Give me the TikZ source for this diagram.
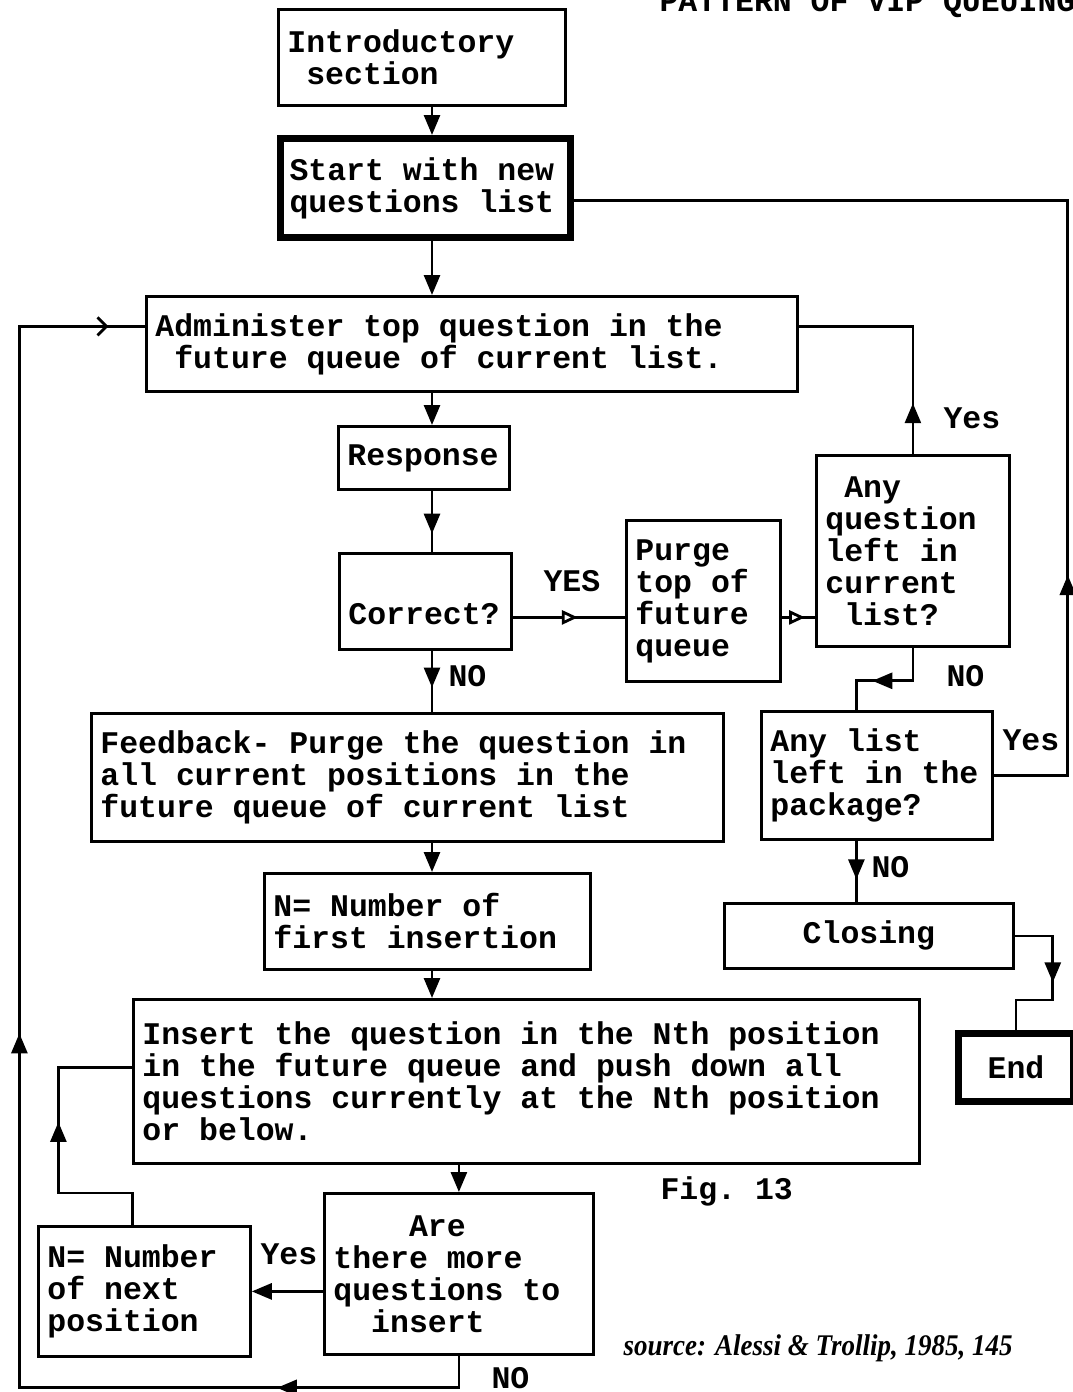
\documentclass[tikz,border=0pt]{standalone}
\usepackage{fontspec}
\setmonofont{Liberation Mono}
\newfontfamily\srcfont{Liberation Serif}
\usetikzlibrary{arrows.meta,decorations.markings}

\begin{document}
\begin{tikzpicture}[x=1pt,y=-1pt,
    font=\ttfamily\bfseries\fontsize{31.5}{32}\selectfont,
    box/.style={draw, line width=2.8pt, anchor=north west, align=flush left,
      inner xsep=9pt, inner ysep=0pt},
    heavybox/.style={box, line width=7pt},
    link/.style={line width=2.8pt},
    tip/.style={-{Triangle[length=20pt,width=16pt]}},
    midtip/.style={postaction={decorate}, decoration={markings,
      mark=at position #1 with {\arrow{Triangle[length=20pt,width=16pt]}}}},
    opentip/.style={postaction={decorate}, decoration={markings,
      mark=at position #1 with {\arrow{Triangle[length=16pt,width=14pt,fill=white]}}}},
    label/.style={anchor=base west}]
  \useasboundingbox (0,0) rectangle (1073,1392);
  \coordinate (spine) at (432,0);

  % Title and captions
  \node[label] (title) at (656,12) {PATTERN OF VIP QUEUING};
  \node[label] (fig) at (657,1199) {Fig. 13};
  \node[label, font=\srcfont\bfseries\itshape\fontsize{30}{32}\selectfont] (source) at (620,1355)
    {\scalebox{0.9}[1]{source: Alessi \& Trollip, 1985, 145}};

  % Boxes
  \node[box, text width=269pt, minimum height=96pt] (intro) at (277,8) {Introductory\\\phantom{x}section};
  \node[heavybox, text width=272pt, minimum height=99pt] (start) at (277,135) {Start with new\\questions list};
  \node[box, text width=633pt, minimum height=95pt] (admin) at (145,295)
    {Administer top question in the\\\phantom{x}future queue of current list.};
  \node[box, text width=153pt, minimum height=63pt] (response) at (337,425) {Response};
  \node[box, text width=154pt, minimum height=96pt] (correct) at (338,552)
    {\raisebox{-13pt}[\height][\depth]{Correct?}};
  \node[box, text width=136pt, minimum height=161pt] (purge) at (625,519) {Purge\\top of\\future\\queue};
  \node[box, text width=175pt, minimum height=191pt] (anyq) at (815,454)
    {\phantom{x}Any\\question\\left in\\current\\\phantom{x}list?};
  \node[box, text width=614pt, minimum height=128pt] (feedback) at (90,712)
    {Feedback- Purge the question in\\all current positions in the\\future queue of current list};
  \node[box, text width=213pt, minimum height=128pt] (anylist) at (760,710) {Any list\\left in the\\package?};
  \node[box, text width=308pt, minimum height=96pt] (nfirst) at (263,872) {N= Number of\\first insertion};
  \node[box, text width=271pt, minimum height=65pt, align=flush center] (closing) at (723,902) {Closing};
  \node[box, text width=768pt, minimum height=164pt] (insert) at (132,998)
    {Insert the question in the Nth position\\in the future queue and push down all\\questions currently at the Nth position\\or below.};
  \node[heavybox, text width=97pt, minimum height=68pt, align=flush center] (end) at (955,1030) {End};
  \node[box, text width=251pt, minimum height=161pt] (more) at (323,1192)
    {\phantom{xxxx}Are\\there more\\questions to\\\phantom{xx}insert};
  \node[box, text width=194pt, minimum height=130pt] (nnext) at (37,1225) {N= Number\\of next\\position};
  \coordinate (yesline) at ([yshift=-16pt]correct.east);

  % Main column
  \draw[link, tip] (intro.south -| spine) -- (start.north -| spine);
  \draw[link, tip] (start.south -| spine) -- (admin.north -| spine);
  \draw[link, tip] (admin.south -| spine) -- (response.north -| spine);
  \draw[link, midtip=0.7] (response.south -| spine) -- (correct.north -| spine);
  \draw[link, midtip=0.6] (correct.south -| spine) -- (feedback.north -| spine);
  \draw[link, tip] (feedback.south -| spine) -- (nfirst.north -| spine);
  \draw[link, tip] (nfirst.south -| spine) -- (insert.north -| spine);
  \draw[link, tip] (insert.south -| more.north) -- (more.north);

  % Correct answer branch
  \draw[link, opentip=0.58] (yesline) -- (yesline -| purge.west);
  \draw[link, opentip=0.7] (yesline -| purge.east) -- (yesline -| anyq.west);
  \draw[link, midtip=0.21] (anyq.north) |- ([yshift=17.5pt]admin.east);
  \draw[link, midtip=0.62] (anyq.south) -- ++(0,33) -| ([xshift=-20.5pt]anylist.north);
  \draw[link, midtip=0.24] (anylist.east) -- ++(74,0) |- ([yshift=-12.5pt]start.east);
  \draw[link, midtip=0.63] ([xshift=-20.5pt]anylist.south) -- ([xshift=-20.5pt]anylist.south |- closing.north);
  \draw[link, midtip=0.5] (closing.east) -- ++(38,0) -- ++(0,64) -| (end.north);

  % Wrong answer branch
  \draw[link, tip] (more.west |- nnext.east) -- (nnext.east);
  \draw[link, midtip=0.58] ([xshift=-12pt]nnext.north) -- ++(0,-32) -- ++(-74,0) |- ([yshift=14pt]insert.west);
  \draw[link, postaction={decorate}, decoration={markings,
      mark=at position 0.129 with {\arrow{Triangle[length=20pt,width=16pt]}},
      mark=at position 0.498 with {\arrow{Triangle[length=20pt,width=16pt]}},
      mark=at position 0.978 with {\arrow{Straight Barb[length=9pt,width=18pt]}}}]
    (more.south) -- ++(0,32) -- ++(-439.5,0) |- ([yshift=17.5pt]admin.west);

  % Branch labels
  \node[label] (yes1) at (540,591) {YES};
  \node[label] (yes2) at (940,428) {Yes};
  \node[label] (no1) at (445,686) {NO};
  \node[label] (no2) at (943,686) {NO};
  \node[label] (yes3) at (999,750) {Yes};
  \node[label] (no3) at (868,877) {NO};
  \node[label] (yes4) at (257,1264) {Yes};
  \node[label] (no4) at (488,1388) {NO};
\end{tikzpicture}
\end{document}
